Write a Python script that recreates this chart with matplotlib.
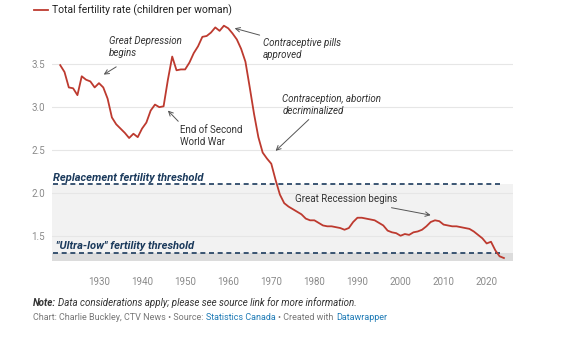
import matplotlib
matplotlib.use("Agg")
import matplotlib.pyplot as plt

plt.rcParams["font.family"] = ["Roboto", "DejaVu Sans"]

# Total fertility rate, Canada (children per woman)
years = list(range(1921, 2025))
tfr = [
    3.49, 3.41, 3.23, 3.22, 3.14, 3.36, 3.32, 3.30, 3.23, 3.28,  # 1921-1930
    3.23, 3.10, 2.88, 2.80, 2.75, 2.70, 2.64, 2.69, 2.65, 2.75,  # 1931-1940
    2.82, 2.96, 3.03, 3.00, 3.01, 3.32, 3.59, 3.43, 3.44, 3.44,  # 1941-1950
    3.52, 3.63, 3.71, 3.82, 3.83, 3.87, 3.93, 3.89, 3.95, 3.92,  # 1951-1960
    3.86, 3.79, 3.68, 3.53, 3.23, 2.92, 2.65, 2.47, 2.40, 2.34,  # 1961-1970
    2.15, 1.98, 1.88, 1.84, 1.81, 1.78, 1.75, 1.70, 1.68, 1.68,  # 1971-1980
    1.65, 1.62, 1.61, 1.61, 1.60, 1.59, 1.57, 1.59, 1.66, 1.71,  # 1981-1990
    1.71, 1.70, 1.69, 1.68, 1.65, 1.62, 1.56, 1.54, 1.53, 1.50,  # 1991-2000
    1.52, 1.51, 1.54, 1.55, 1.57, 1.61, 1.66, 1.68, 1.67, 1.63,  # 2001-2010
    1.62, 1.61, 1.61, 1.60, 1.59, 1.58, 1.55, 1.51, 1.47, 1.41,  # 2011-2020
    1.43, 1.33, 1.26, 1.24,                                      # 2021-2024
]

replacement = 2.1
ultra_low = 1.3
y_ticks = [1.5, 2.0, 2.5, 3.0, 3.5]
x_ticks = [1930, 1940, 1950, 1960, 1970, 1980, 1990, 2000, 2010, 2020]

red = "#bd3a2f"
navy = "#1b3a5c"
arrow_col = "#555555"

fig = plt.figure(figsize=(5.76, 3.4), dpi=100)
ax = fig.add_axes([0.0903, 0.231, 0.801, 0.706])
ax.set_xlim(1919.1, 2026.2)
ax.set_ylim(1.2, 4.0)

# shaded bands
ax.axhspan(ultra_low, replacement, color="#f2f2f2", zorder=0, lw=0)
ax.axhspan(1.2, ultra_low, color="#dcdcdc", zorder=0, lw=0)

for t in y_ticks:
    ax.axhline(t, color="#e6e6e6", lw=0.8, zorder=0.5)

# threshold lines
ax.plot([1919.3, 2023.8], [replacement, replacement], color=navy, lw=1.2,
        dashes=(3, 2.2), zorder=2)
ax.plot([1919.3, 2023.8], [ultra_low, ultra_low], color=navy, lw=1.2,
        dashes=(3, 2.2), zorder=2)

line, = ax.plot(years, tfr, color=red, lw=1.3, zorder=3,
                label="Total fertility rate (children per woman)")

ax.text(1919.3, 2.12, "Replacement fertility threshold", color=navy,
        fontsize=8, fontweight="bold", fontstyle="italic", va="bottom")
ax.text(1920.0, 1.32, "\"Ultra-low\" fertility threshold", color=navy,
        fontsize=8, fontweight="bold", fontstyle="italic", va="bottom")

# annotations
arrow = dict(arrowstyle="->", color=arrow_col, lw=0.7, shrinkA=0, shrinkB=0,
             mutation_scale=8)
notes = [
    ("Great Depression\nbegins", (1932.3, 3.705), (1934.0, 3.47), (1931.1, 3.38), "italic"),
    ("Contraceptive pills\napproved", (1968.1, 3.68), (1967.3, 3.84), (1961.5, 3.92), "italic"),
    ("End of Second\nWorld War", (1948.8, 2.66), (1948.4, 2.835), (1946.0, 2.96), "normal"),
    ("Contraception, abortion\ndecriminalized", (1972.6, 3.025), (1978.7, 2.855), (1971.0, 2.49), "italic"),
    ("Great Recession begins", (1975.4, 1.93), (1997.9, 1.827), (2007.0, 1.74), "normal"),
]
for txt, pos, tail, head, style in notes:
    ax.text(pos[0], pos[1], txt, fontsize=7, fontstyle=style, color="#333333",
            va="center", ha="left", linespacing=1.2)
    ax.annotate("", xy=head, xytext=tail, arrowprops=arrow)

ax.set_xticks(x_ticks)
ax.set_yticks(y_ticks)
ax.set_yticklabels([f"{t:.1f}" for t in y_ticks])
ax.tick_params(axis="both", length=0, labelsize=7, labelcolor="#8a8a8a")
ax.tick_params(axis="x", pad=11)
ax.tick_params(axis="y", pad=5)
for s in ax.spines.values():
    s.set_visible(False)

ax.legend(handles=[line], loc="center left", frameon=False, fontsize=7.5,
          handlelength=1.3, handletextpad=0.4, borderpad=0, borderaxespad=0,
          bbox_to_anchor=(34 / 576, 1 - 10 / 340), bbox_transform=fig.transFigure,
          labelcolor="#222222")

# footer
n1 = fig.text(33 / 576, 1 - 303 / 340, "Note:", fontsize=7, fontweight="bold",
              fontstyle="italic", color="#333333", va="center")
ax.annotate("Data considerations apply; please see source link for more information.",
            xy=(1, 0), xycoords=n1, xytext=(1.2, 0), textcoords="offset points",
            fontsize=7, fontstyle="italic", color="#333333", va="bottom")

parts = [
    ("Chart: Charlie Buckley, CTV News \u2022 Source:", "#777777"),
    ("Statistics Canada", "#1f7bb6"),
    ("\u2022 Created with", "#777777"),
    ("Datawrapper", "#1f7bb6"),
]
prev = fig.text(33 / 576, 1 - 318 / 340, parts[0][0], fontsize=6.5,
                color=parts[0][1], va="center")
for txt, col in parts[1:]:
    prev = ax.annotate(txt, xy=(1, 0), xycoords=prev, xytext=(1.8, 0),
                       textcoords="offset points", fontsize=6.5, color=col,
                       va="bottom")

fig.savefig("out.png", dpi=100)
